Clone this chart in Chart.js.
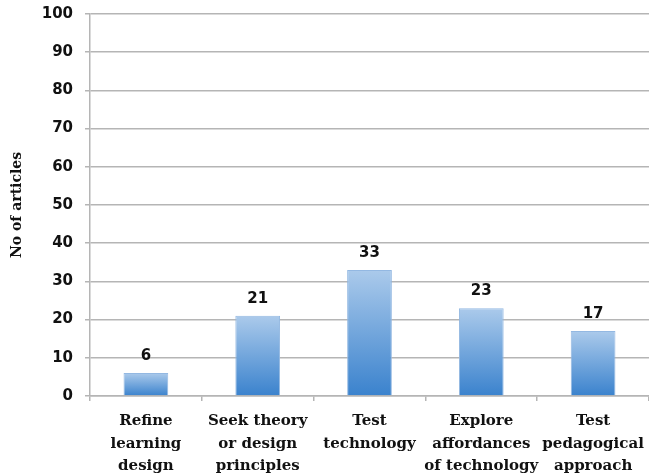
<!DOCTYPE html>
<html>
<head>
<meta charset="utf-8">
<script src="https://cdn.jsdelivr.net/npm/chart.js@4.4.1/dist/chart.umd.min.js"></script>
<style>
  body { margin: 0; background: #fff; }
</style>
</head>
<body>
<canvas id="chart" width="649" height="476"></canvas>
<script>
var categories = [
    ["Refine", "learning", "design"],
    ["Seek theory", "or design", "principles"],
    ["Test", "technology"],
    ["Explore", "affordances", "of technology"],
    ["Test", "pedagogical", "approach"]
];
var articles = [6, 21, 33, 23, 17];
var yMin = 0, yMax = 100, yStep = 10;

var gridColor = "#b5b5b5";
var sansBold = { family: "'DejaVu Sans', Verdana, sans-serif", size: 15, weight: "bold" };
var serifBold = { family: "'DejaVu Serif', Cambria, serif", size: 15, weight: "bold", lineHeight: 1.5 };

// values drawn above each bar
var barLabels = {
    id: 'barLabels',
    afterDatasetsDraw: function (chart) {
        var ctx = chart.ctx;
        var meta = chart.getDatasetMeta(0);
        ctx.save();
        ctx.font = "bold 15px 'DejaVu Sans', Verdana, sans-serif";
        ctx.fillStyle = "#111";
        ctx.textAlign = "center";
        ctx.textBaseline = "alphabetic";
        meta.data.forEach(function (bar, i) {
            ctx.fillText(chart.data.datasets[0].data[i], bar.x, bar.y - 13);
        });
        ctx.restore();
    }
};

var ctx = document.getElementById("chart");
var myChart = new Chart(ctx, {
    type: 'bar',
    data: {
        labels: categories,
        datasets: [{
            data: articles,
            backgroundColor: function (c) {
                var chart = c.chart;
                if (!chart.chartArea) return "#6fa3dc";
                var y = chart.scales.y;
                var top = y.getPixelForValue(c.raw);
                var bottom = y.getPixelForValue(0);
                var g = chart.ctx.createLinearGradient(0, top, 0, bottom);
                g.addColorStop(0, "#abcaeb");
                g.addColorStop(1, "#3a82cd");
                return g;
            },
            borderColor: "#93b8e2",
            borderWidth: 1,
            categoryPercentage: 1,
            barPercentage: 0.4
        }]
    },
    options: {
        responsive: false,
        animation: false,
        layout: { padding: { top: 14, right: 0, left: 0, bottom: 0 } },
        plugins: {
            legend: { display: false },
            tooltip: { enabled: false }
        },
        scales: {
            x: {
                grid: { display: true, drawOnChartArea: false, drawTicks: true, tickLength: 5, color: gridColor, lineWidth: 1.5 },
                border: { color: gridColor, width: 1.5 },
                ticks: { color: "#111", font: serifBold, padding: 9, maxRotation: 0, autoSkip: false },
                afterFit: function (axis) {
                    axis.height = 80;
                    axis.paddingLeft = 0;
                    axis.paddingRight = 0;
                }
            },
            y: {
                min: yMin,
                max: yMax,
                ticks: { stepSize: yStep, color: "#111", font: sansBold, padding: 12 },
                grid: { color: gridColor, lineWidth: 1.5, tickLength: 5 },
                border: { color: gridColor, width: 1.5 },
                title: {
                    display: true,
                    text: "No of articles",
                    color: "#111",
                    font: { family: "'DejaVu Serif', Cambria, serif", size: 14, weight: "bold" },
                    padding: { top: 9, bottom: 4 }
                },
                afterFit: function (axis) {
                    axis.width = 90;
                    axis.paddingTop = 0;
                    axis.paddingBottom = 0;
                }
            }
        }
    },
    plugins: [barLabels]
});
</script>
</body>
</html>
